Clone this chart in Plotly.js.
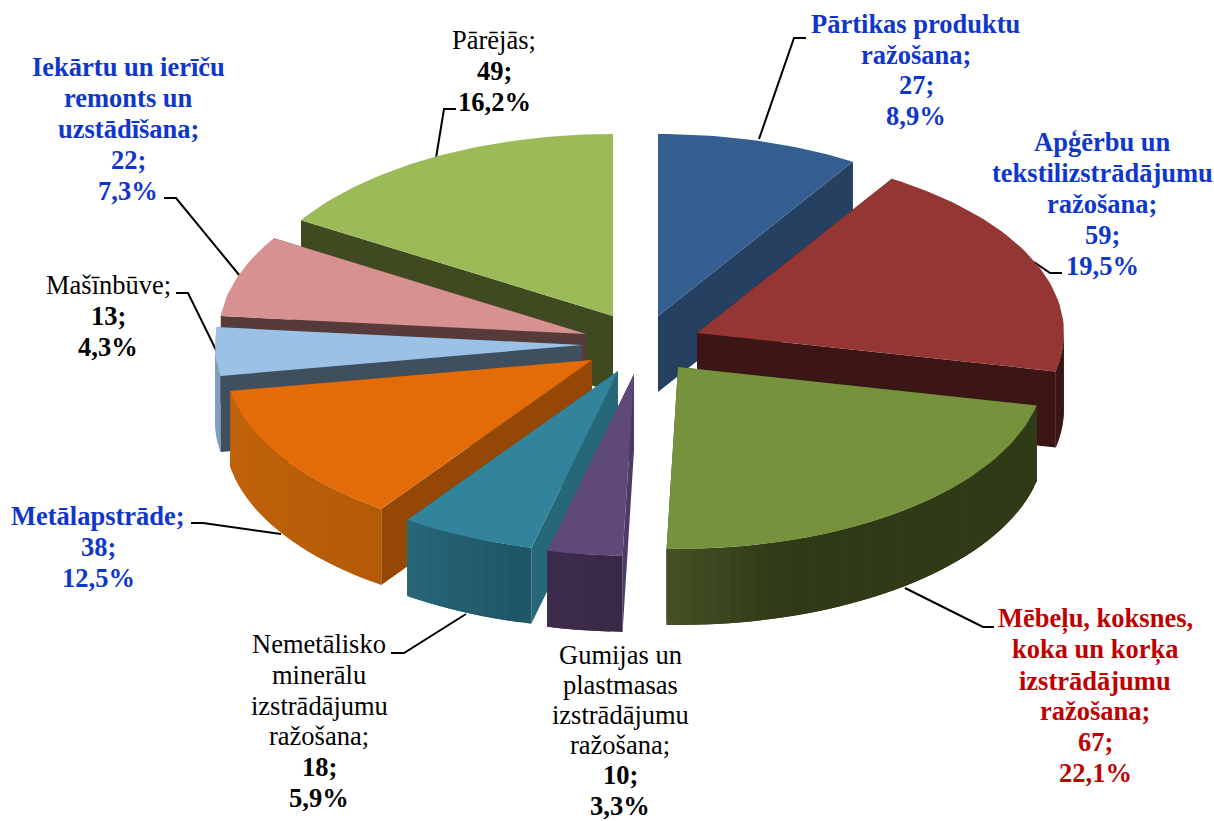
<!DOCTYPE html>
<html>
<head>
<meta charset="utf-8">
<script src="https://cdn.plot.ly/plotly-3.0.1.min.js"></script>
<style>html,body{margin:0;padding:0;background:#fff}</style>
</head>
<body>
<div id="chart" style="width:1214px;height:821px"></div>
<script>
// ---- data ----
const categories = [
  ["Pārtikas produktu", "ražošana;"],
  ["Apģērbu un", "tekstilizstrādājumu", "ražošana;"],
  ["Mēbeļu, koksnes,", "koka un korķa", "izstrādājumu", "ražošana;"],
  ["Gumijas un", "plastmasas", "izstrādājumu", "ražošana;"],
  ["Nemetālisko", "minerālu", "izstrādājumu", "ražošana;"],
  ["Metālapstrāde;"],
  ["Mašīnbūve;"],
  ["Iekārtu un ierīču", "remonts un", "uzstādīšana;"],
  ["Pārējās;"]
];
const values = [27, 59, 67, 10, 18, 38, 13, 22, 49];
const percents = ["8,9%", "19,5%", "22,1%", "3,3%", "5,9%", "12,5%", "4,3%", "7,3%", "16,2%"];

// ---- styling and layout ----
const topColors  = ["#365F91", "#943634", "#76923C", "#5F497A", "#31849B", "#E36C09", "#9BC2E6", "#D69190", "#9BBB59"];
const cutColors  = ["#254061", "#3B1614", "#2F3A17", "#4E3A68", "#26687A", "#954806", "#3F4F5E", "#573A3A", "#3F4A20"];
const rimLeft    = ["#254061", "#3B1614", "#475526", "#3E2C4E", "#28687A", "#C0620A", "#7F9FC2", "#573A3A", "#3F4A20"];
const rimRight   = ["#254061", "#3B1614", "#2F3A17", "#382945", "#1F5666", "#B45A08", "#7F9FC2", "#573A3A", "#3F4A20"];
const labelColors = ["#0F37CC", "#0F37CC", "#C00000", "#000000", "#000000", "#0F37CC", "#000000", "#0F37CC", "#000000"];
const labelBoldNames = [true, true, true, false, false, true, false, true, false];
const labelX = [916, 1102, 1095, 620, 319, 98, 108, 128, 494];
const labelY = [70, 204, 696, 730, 721, 547, 316, 129, 71];
const labelGap = [30.8, 30.8, 30.8, 30.2, 30.8, 30.8, 30.8, 30.8, 30.8];
const apexX = [658, 697, 678, 634, 618, 592, 582, 586, 613];
const apexY = [316, 333, 367, 374, 371, 360, 345, 334, 316];
const paintOrder = [8, 0, 7, 1, 6, 5, 2, 4, 3];
const radiusX = 367, radiusY = 182, depth = 76;
const fontSize = 26.5;
const leaderPaths = [
  "M806,38 L794,38 L759,139",
  "M1034,262 L1050,273 L1062,273",
  "M905,588 L983,627 L994,627",
  "M391,653 L404,653 L466,614",
  "M191,523 L203,523 L281,534",
  "M176,293 L188,293 L217,352",
  "M164,198 L176,198 L240,276",
  "M456,109 L444,109 L436,158"
];

// ---- helpers ----
const total = values.reduce((a, b) => a + b, 0);
const rad = d => d * Math.PI / 180;
const hex = c => [1, 3, 5].map(i => parseInt(c.substr(i, 2), 16));
const mix = (a, b, f) => {
  const A = hex(a), B = hex(b);
  return "rgb(" + A.map((v, i) => Math.round(v + (B[i] - v) * f)).join(",") + ")";
};
const traces = [];
function poly(xs, ys, color, lw) {
  traces.push({
    type: "scatter", mode: "lines", x: xs, y: ys, fill: "toself", fillcolor: color,
    line: {color: color, width: lw}, hoverinfo: "skip", showlegend: false
  });
}

const starts = [];
let acc = 0;
values.forEach(v => { starts.push(acc / total * 360); acc += v; });

function edge(i, t) {
  return [apexX[i] + radiusX * Math.sin(rad(t)), apexY[i] - radiusY * Math.cos(rad(t))];
}

paintOrder.forEach(i => {
  const t0 = starts[i], t1 = t0 + values[i] / total * 360;
  const a = [apexX[i], apexY[i]];
  // cut faces
  [t0, t1].forEach(t => {
    const p = edge(i, t);
    poly([a[0], p[0], p[0], a[0], a[0]], [a[1], p[1], p[1] + depth, a[1] + depth, a[1]], cutColors[i], 0);
  });
  // outer wall, only the part facing the viewer; each band overlaps the next so no seams show
  const r0 = Math.max(t0, 90), r1 = Math.min(t1, 270);
  if (r1 > r0) {
    const n = Math.max(1, Math.ceil((r1 - r0) / 2));
    const step = (r1 - r0) / n;
    const xa = edge(i, r1)[0], xb = edge(i, r0)[0];
    const lo = Math.min(xa, xb), hi = Math.max(xa, xb);
    for (let k = n - 1; k >= 0; k--) {
      const u0 = r0 + step * k, u1 = Math.min(r1, u0 + step * 2);
      const xs = [], ys = [];
      for (let s = 0; s <= 4; s++) {
        const p = edge(i, u0 + (u1 - u0) * s / 4);
        xs.push(p[0]); ys.push(p[1]);
      }
      for (let s = 4; s >= 0; s--) {
        const p = edge(i, u0 + (u1 - u0) * s / 4);
        xs.push(p[0]); ys.push(p[1] + depth);
      }
      xs.push(xs[0]); ys.push(ys[0]);
      const xm = edge(i, u0 + step / 2)[0];
      let f = hi > lo ? (xm - lo) / (hi - lo) : 0;
      if (i === 2) f = Math.min(1, f * 3);
      poly(xs, ys, mix(rimLeft[i], rimRight[i], f), 0);
    }
  }
  // top face
  const xs = [a[0]], ys = [a[1]];
  const m = Math.ceil((t1 - t0) / 1.5);
  for (let k = 0; k <= m; k++) {
    const p = edge(i, t0 + (t1 - t0) * k / m);
    xs.push(p[0]); ys.push(p[1]);
  }
  xs.push(a[0]); ys.push(a[1]);
  poly(xs, ys, topColors[i], 0);
});

const annotations = [];
categories.forEach((nameLines, i) => {
  const lines = nameLines.map(s => labelBoldNames[i] ? "<b>" + s + "</b>" : s)
    .concat(["<b>" + values[i] + ";</b>", "<b>" + percents[i] + "</b>"]);
  lines.forEach((text, k) => {
    annotations.push({
      x: labelX[i], y: labelY[i] + (k - (lines.length - 1) / 2) * labelGap[i],
      xref: "x", yref: "y", xanchor: "center", yanchor: "middle", align: "center",
      showarrow: false, text: text,
      font: {family: "Liberation Serif, Times New Roman, serif", size: fontSize, color: labelColors[i]}
    });
  });
});

const shapes = leaderPaths.map(p => ({
  type: "path", path: p, xref: "x", yref: "y", layer: "below",
  line: {color: "#000000", width: 2}
}));

Plotly.newPlot("chart", traces, {
  width: 1214, height: 821, autosize: false,
  margin: {l: 0, r: 0, t: 0, b: 0, pad: 0},
  paper_bgcolor: "#ffffff", plot_bgcolor: "#ffffff", showlegend: false,
  hovermode: false,
  xaxis: {range: [0, 1214], visible: false, fixedrange: true},
  yaxis: {range: [821, 0], visible: false, fixedrange: true},
  annotations: annotations, shapes: shapes
}, {displayModeBar: false, staticPlot: true});
</script>
</body>
</html>
